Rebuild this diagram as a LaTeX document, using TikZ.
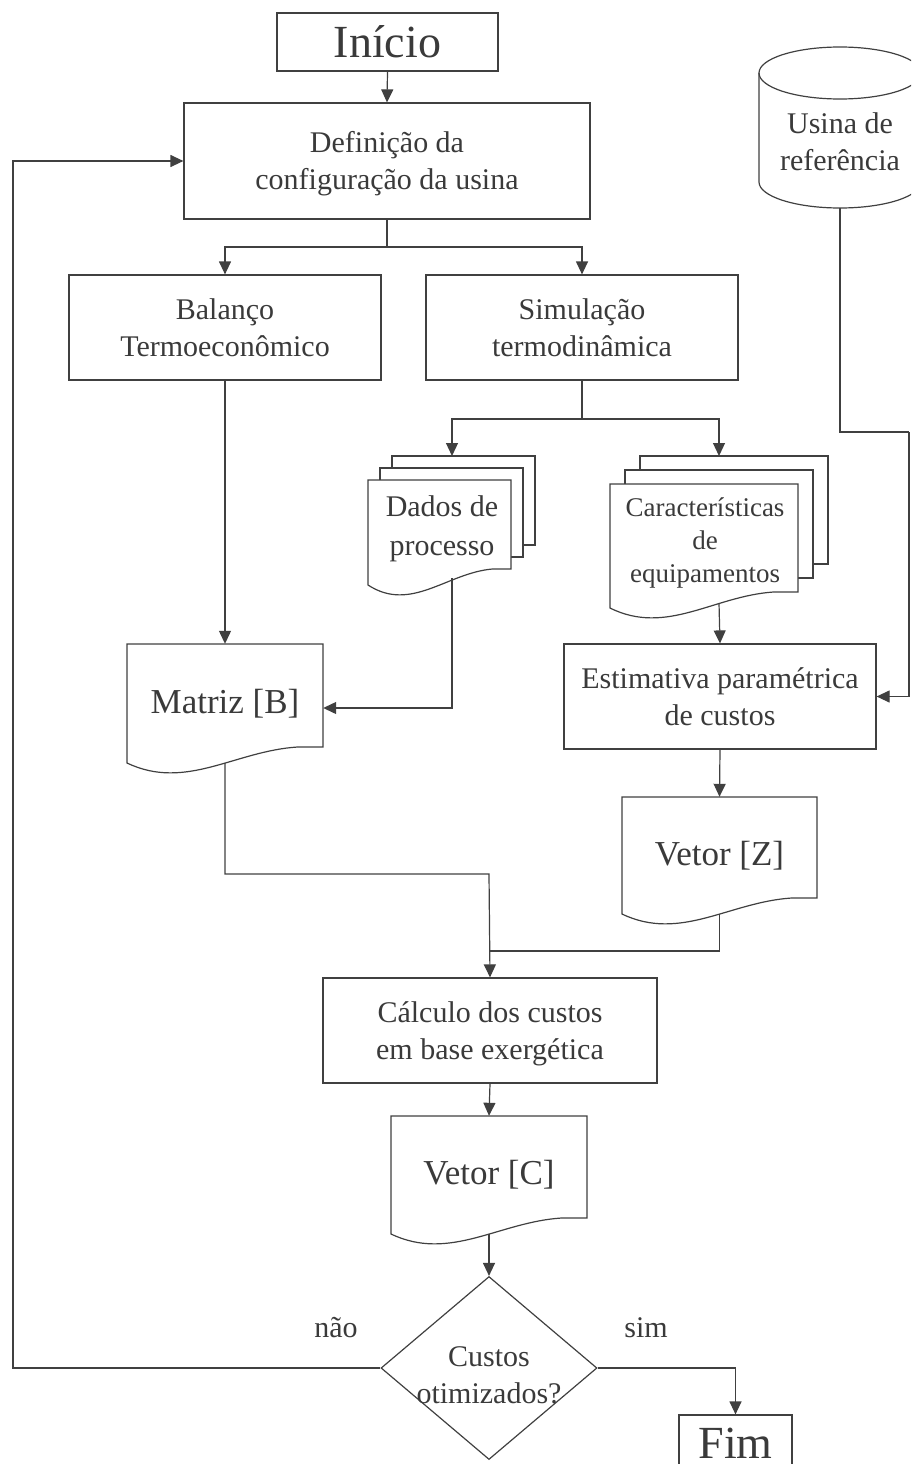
\documentclass[tikz,border=0pt]{standalone}
\usepackage{fontspec}
\setmainfont{Liberation Serif}
\usetikzlibrary{arrows.meta,shapes.geometric}
\definecolor{ink}{HTML}{404040}
\definecolor{txt}{HTML}{3A3A3A}
\newcommand\ts{\rule{0pt}{28pt}}
\newcommand\bs{\rule[-8pt]{0pt}{8pt}}
% document outline: left, top, right, y of right bottom
\newcommand\docshape[4]{%
  \filldraw[ln,fill=white] (#1,#2) -- (#3,#2) -- (#3,#4) -- ({#1+0.87*(#3-#1)},#4)
    .. controls ({#1+0.55*(#3-#1)},{#4+4}) and ({#1+0.3*(#3-#1)},{#4+44}) .. (#1,{#4+16}) -- cycle;}
\newcommand\pagebox[4]{%
  \filldraw[ln,fill=white] (#1,#2) rectangle (#3,#4);}
\begin{document}
\begin{tikzpicture}[x=1pt,y=-1pt,
  ln/.style={draw=ink,line width=1.2pt},
  arr/.style={draw=ink,line width=1.2pt,-{Triangle[length=13pt,width=12pt]}},
  box/.style={ln,rectangle,inner sep=0pt,text=txt,align=center,
    font=\fontsize{30}{37}\selectfont},
  big/.style={ln,rectangle,inner sep=0pt,text=txt,font=\fontsize{46}{50}\selectfont},
  doctext/.style={rectangle,inner sep=0pt,text=txt,align=center,
    font=\fontsize{35}{40}\selectfont},
  plain/.style={inner sep=0pt,text=txt,align=center,font=\fontsize{30}{37}\selectfont}]
\useasboundingbox (0,0) rectangle (911,1464);
\clip (0,0) rectangle (911,1464);

% ---------- main boxes ----------
\node[big,minimum width=221pt,minimum height=58pt] (inicio) at (387.5,42) {Início};
\node[box,minimum width=406pt,minimum height=116pt] (definicao) at (387,161)
  {\ts Definição da\\configuração da usina\bs};
\node[box,minimum width=312pt,minimum height=105pt] (balanco) at (225,327.5)
  {\ts Balanço\\Termoeconômico\bs};
\node[box,minimum width=312pt,minimum height=105pt] (simulacao) at (582,327.5)
  {\ts Simulação\\termodinâmica\bs};
\node[box,minimum width=312pt,minimum height=105pt] (estimativa) at (720,696.5)
  {\ts Estimativa paramétrica\\de custos\bs};
\node[box,minimum width=334pt,minimum height=105pt] (calculo) at (490,1030.5)
  {\ts Cálculo dos custos\\em base exergética\bs};

% ---------- cylinder ----------
\filldraw[ln,fill=white] (759,73) -- (759,182)
  arc[start angle=180,end angle=360,x radius=81pt,y radius=26pt] -- (921,73);
\draw[ln] (840,73) ellipse [x radius=81pt,y radius=26pt];
\node[plain] (usina) at (840,142) {Usina de\\referência};
\coordinate (usinaout) at (840,208);

% ---------- multi-document stacks ----------
\pagebox{392}{456}{535}{545}
\pagebox{380}{468}{523}{557}
\docshape{368}{480}{511}{569}
\node[plain,font=\fontsize{30}{39}\selectfont] (dados) at (442,529) {Dados de\\processo};
\coordinate (dadosin) at (452,456);
\coordinate (dadosout) at (452,578);

\pagebox{640}{456}{828}{564}
\pagebox{625}{470}{813}{578}
\docshape{610}{484}{798}{592}
\node[plain,font=\fontsize{27}{33}\selectfont] (carac) at (705,543)
  {Características\\de\\equipamentos};
\coordinate (caracin) at (719,456);
\coordinate (caracout) at (719,603);

% ---------- single documents ----------
\docshape{127}{644}{323}{747}
\node[doctext,minimum width=196pt,minimum height=119pt] (matriz) at (225,703.5) {Matriz [B]};
\docshape{622}{797}{817}{898}
\node[doctext,minimum width=195pt,minimum height=117pt] (vetorz) at (719.5,855.5) {Vetor [Z]};
\docshape{391}{1116}{587}{1218}
\node[doctext,minimum width=196pt,minimum height=118pt] (vetorc) at (489,1175) {Vetor [C]};

% ---------- decision and end ----------
\node[ln,diamond,minimum width=216pt,minimum height=183pt,inner sep=0pt] (dec) at (489,1368) {};
\node[plain] (dectxt) at (489,1375) {Custos\\otimizados?};
\node[big,minimum width=113pt,minimum height=56pt] (fim) at (735.5,1443) {Fim};
\node[plain,anchor=base] (nao) at (336,1337) {não};
\node[plain,anchor=base] (sim) at (646,1337) {sim};

% ---------- connector coordinates ----------
\coordinate (split1) at (387,247);
\coordinate (split2) at (582,419);
\coordinate (u2) at (909,432);
\coordinate (m1) at (489,874);
\coordinate (m2) at (489,951);
\coordinate (loopc) at (13,1368);

% ---------- connectors ----------
\draw[arr] (inicio.south) -- (definicao.north);
\draw[ln] (definicao.south) -- (split1);
\draw[arr] (split1) -| (balanco.north);
\draw[arr] (split1) -| (simulacao.north);
\draw[ln] (simulacao.south) -- (split2);
\draw[arr] (split2) -| (dadosin);
\draw[arr] (split2) -| (caracin);
\draw[arr] (balanco.south) -- (matriz.north);
\draw[arr] (dadosout) |- ([yshift=-4.5pt]matriz.east);
\draw[arr] (caracout) -- (estimativa.north);
\draw[ln] (usinaout) |- (u2);
\draw[arr] (u2) |- (estimativa.east);
\draw[arr] (estimativa.south) -- (vetorz.north);
\draw[arr] (matriz.south) |- (m1) -- (calculo.north);
\draw[ln] (vetorz.south) |- (m2);
\draw[arr] (calculo.south) -- (vetorc.north);
\draw[arr] (vetorc.south) -- (dec.north);
\draw[arr] (dec.west) -- (loopc) |- (definicao.west);
\draw[arr] (dec.east) -| (fim.north);
\end{tikzpicture}
\end{document}
